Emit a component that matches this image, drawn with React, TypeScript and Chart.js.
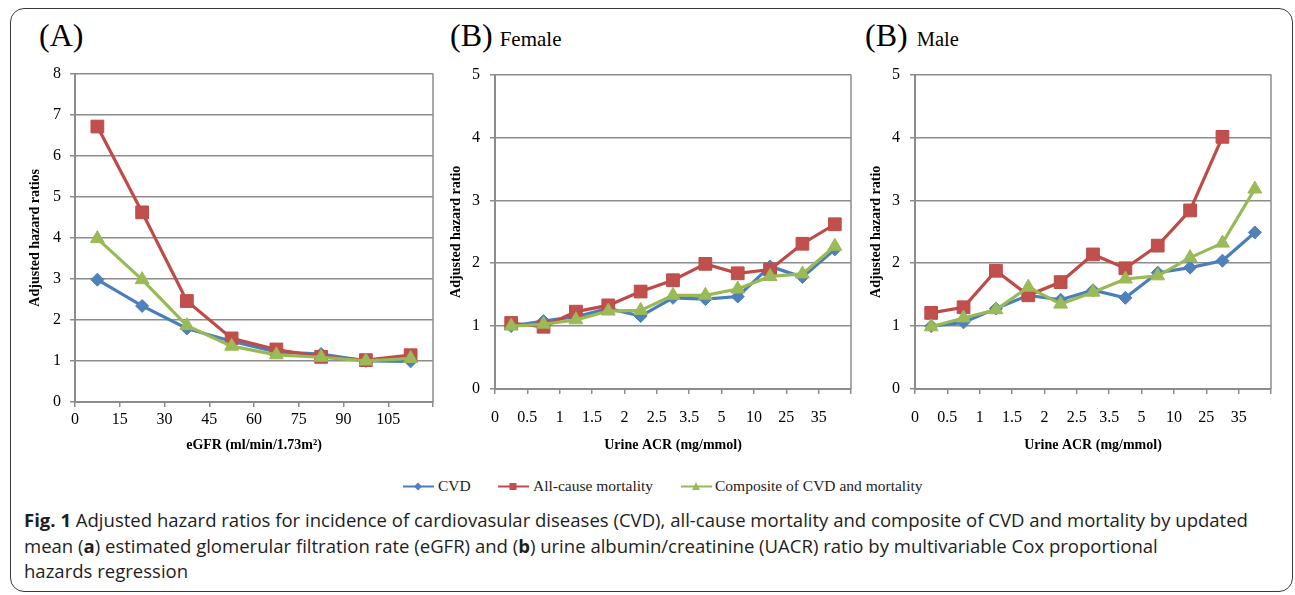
import React, { useEffect, useRef } from "react";
import { Chart, registerables } from "chart.js";

Chart.register(...registerables);

// ---------- data ----------
const seriesNames = ["CVD", "All-cause mortality", "Composite of CVD and mortality"];
const lineColors = ["#4A7EBB", "#BE4B48", "#98B954"];
const markerColors = ["#4F81BD", "#C0504D", "#9BBB59"];
const markerStyles = ["rectRot", "rect", "triangle"];
const markerRadii = [6.5, 9, 8];

// Panel A: eGFR bands (15 ml/min wide), plotted at band mid-points
const egfrTickLabels = ["0", "15", "30", "45", "60", "75", "90", "105"];
const egfrMidpoints = [7.5, 22.5, 37.5, 52.5, 67.5, 82.5, 97.5, 112.5];
const egfrCvd = [2.98, 2.34, 1.79, 1.48, 1.22, 1.17, 1.0, 0.99];
const egfrMortality = [6.71, 4.62, 2.46, 1.55, 1.28, 1.1, 1.02, 1.14];
const egfrComposite = [3.98, 2.98, 1.86, 1.36, 1.15, 1.09, 1.0, 1.06];

// Panel B: urine ACR categories (labels at category boundaries)
const acrTickLabels = ["0", "0.5", "1", "1.5", "2", "2.5", "3.5", "5", "10", "25", "35"];
const femaleCvd = [1.0, 1.08, 1.15, 1.28, 1.16, 1.45, 1.43, 1.47, 1.95, 1.78, 2.22];
const femaleMortality = [1.05, 0.99, 1.23, 1.33, 1.55, 1.73, 1.99, 1.84, 1.9, 2.31, 2.62];
const femaleComposite = [1.0, 1.03, 1.1, 1.24, 1.25, 1.49, 1.49, 1.59, 1.79, 1.83, 2.27];
const maleCvd = [1.0, 1.06, 1.28, 1.49, 1.42, 1.57, 1.45, 1.85, 1.93, 2.04, 2.49];
const maleMortality = [1.21, 1.3, 1.88, 1.49, 1.7, 2.14, 1.92, 2.28, 2.84, 4.01, null];
const maleComposite = [0.99, 1.13, 1.26, 1.62, 1.35, 1.54, 1.75, 1.8, 2.09, 2.32, 3.18];

const SERIF = '"Liberation Serif", "Times New Roman", serif';
const GRID = "#8c8c8c";

const framePlugin = {
  id: "frameRight",
  beforeDatasetsDraw(chart: any) {
    const { ctx, chartArea } = chart;
    ctx.save();
    ctx.strokeStyle = GRID;
    ctx.lineWidth = 1.5;
    ctx.beginPath();
    ctx.moveTo(chartArea.right, chartArea.top);
    ctx.lineTo(chartArea.right, chartArea.bottom);
    ctx.stroke();
    ctx.restore();
  },
};

type PanelProps = {
  left: number;
  top: number;
  width: number;
  height: number;
  xs: number[];
  series: (number | null)[][];
  xMax: number;
  xStep: number;
  tickLabels: string[];
  yMax: number;
  yAxisWidth: number;
  xAxisHeight: number;
  padTop: number;
  padRight: number;
  xTickPad: number;
  yTickPad: number;
  yTitle: string;
  xTitle: string;
  yTitlePad: number;
  xTitlePad: number;
};

function Panel(p: PanelProps) {
  const ref = useRef<HTMLCanvasElement>(null);
  useEffect(() => {
    const datasets = p.series.map((ys, k) => ({
      label: seriesNames[k],
      data: p.xs.map((x, i) => ({ x, y: ys[i] })),
      borderColor: lineColors[k],
      backgroundColor: markerColors[k],
      borderWidth: 3.2,
      pointStyle: markerStyles[k],
      pointRadius: markerRadii[k],
      pointBackgroundColor: markerColors[k],
      pointBorderColor: lineColors[k],
      pointBorderWidth: 1,
      tension: 0,
      order: 3 - k,
      clip: false as any,
    }));
    const chart = new Chart(ref.current!, {
      type: "line",
      data: { datasets },
      plugins: [framePlugin],
      options: {
        animation: false,
        responsive: false,
        events: [],
        layout: { padding: { left: 0, top: p.padTop, right: p.padRight, bottom: 0 } },
        plugins: { legend: { display: false }, tooltip: { enabled: false } },
        scales: {
          x: {
            type: "linear",
            min: 0,
            max: p.xMax,
            afterFit: (s: any) => {
              s.height = p.xAxisHeight;
            },
            ticks: {
              stepSize: p.xStep,
              autoSkip: false,
              maxRotation: 0,
              padding: p.xTickPad,
              color: "#000",
              font: { family: SERIF, size: 16 },
              callback: (v: any) => {
                const idx = Math.round(Number(v) / p.xStep);
                return p.tickLabels[idx] ?? "";
              },
            },
            grid: { drawOnChartArea: false, drawTicks: true, tickLength: 5, color: GRID, lineWidth: 1.5 },
            border: { display: true, color: GRID, width: 2 },
            title: {
              display: true,
              text: p.xTitle,
              color: "#000",
              font: { family: SERIF, size: 14, weight: "bold" },
              padding: { top: 0, bottom: p.xTitlePad },
            },
          },
          y: {
            min: 0,
            max: p.yMax,
            afterFit: (s: any) => {
              s.width = p.yAxisWidth;
            },
            ticks: {
              stepSize: 1,
              padding: p.yTickPad,
              color: "#000",
              font: { family: SERIF, size: 16 },
            },
            grid: { color: GRID, lineWidth: 1.5, tickLength: 5, drawTicks: true },
            border: { display: true, color: GRID, width: 2 },
            title: {
              display: true,
              text: p.yTitle,
              color: "#000",
              font: { family: SERIF, size: 14, weight: "bold" },
              padding: { top: p.yTitlePad, bottom: 0 },
            },
          },
        },
      } as any,
    });
    return () => chart.destroy();
  }, []);
  return (
    <div style={{ position: "absolute", left: p.left, top: p.top, width: p.width, height: p.height }}>
      <canvas ref={ref} width={p.width} height={p.height} style={{ display: "block" }} />
    </div>
  );
}

function LegendIcon({ k }: { k: number }) {
  const c = markerColors[k];
  let marker: React.ReactNode = null;
  if (k === 0) marker = <polygon points="15,2.5 19,6.5 15,10.5 11,6.5" fill={c} />;
  if (k === 1) marker = <rect x={11.5} y={3} width={7} height={7} fill={c} />;
  if (k === 2) marker = <polygon points="15,2 19,10 11,10" fill={c} />;
  return (
    <svg width={31} height={13} style={{ display: "block" }}>
      <line x1={0} y1={6.5} x2={31} y2={6.5} stroke={lineColors[k]} strokeWidth={2} />
      {marker}
    </svg>
  );
}

export default function App() {
  const acrBinCentres = acrTickLabels.map((_, i) => i + 0.5);
  const legendPos = [
    { icon: 403, text: 438 },
    { icon: 498, text: 533 },
    { icon: 681, text: 715 },
  ];
  return (
    <div style={{ position: "absolute", left: 0, top: 0, width: 1295, height: 595, background: "#fff", overflow: "hidden" }}>
      <div
        style={{
          position: "absolute",
          left: 10,
          top: 8,
          width: 1283,
          height: 584,
          boxSizing: "border-box",
          border: "1.5px solid #3a3a3a",
          borderRadius: 14,
        }}
      />
      {/* panel titles */}
      <div style={{ position: "absolute", left: 39, top: 17, fontFamily: SERIF, fontSize: 32, lineHeight: "36px", color: "#000", whiteSpace: "nowrap" }}>
        (A)
      </div>
      <div style={{ position: "absolute", left: 450, top: 17, fontFamily: SERIF, fontSize: 32, lineHeight: "36px", color: "#000", whiteSpace: "nowrap" }}>
        (B)<span style={{ fontSize: 21, marginLeft: 7 }}>Female</span>
      </div>
      <div style={{ position: "absolute", left: 865, top: 17, fontFamily: SERIF, fontSize: 32, lineHeight: "36px", color: "#000", whiteSpace: "nowrap" }}>
        (B)<span style={{ fontSize: 20.5, marginLeft: 9 }}>Male</span>
      </div>

      <Panel
        left={20}
        top={55}
        width={425}
        height={410}
        xs={egfrMidpoints}
        series={[egfrCvd, egfrMortality, egfrComposite]}
        xMax={120}
        xStep={15}
        tickLabels={egfrTickLabels}
        yMax={8}
        yAxisWidth={55}
        xAxisHeight={63}
        padTop={14}
        padRight={12}
        xTickPad={3}
        yTickPad={9}
        yTitle="Adjusted hazard ratios"
        xTitle="eGFR (ml/min/1.73m²)"
        yTitlePad={6.6}
        xTitlePad={11.6}
      />
      <Panel
        left={445}
        top={55}
        width={420}
        height={410}
        xs={acrBinCentres}
        series={[femaleCvd, femaleMortality, femaleComposite]}
        xMax={11}
        xStep={1}
        tickLabels={acrTickLabels}
        yMax={5}
        yAxisWidth={50}
        xAxisHeight={76}
        padTop={14}
        padRight={11}
        xTickPad={14}
        yTickPad={10}
        yTitle="Adjusted hazard ratio"
        xTitle="Urine ACR (mg/mmol)"
        yTitlePad={3.3}
        xTitlePad={11.6}
      />
      <Panel
        left={865}
        top={55}
        width={420}
        height={410}
        xs={acrBinCentres}
        series={[maleCvd, maleMortality, maleComposite]}
        xMax={11}
        xStep={1}
        tickLabels={acrTickLabels}
        yMax={5}
        yAxisWidth={50}
        xAxisHeight={76}
        padTop={14}
        padRight={11}
        xTickPad={14}
        yTickPad={10}
        yTitle="Adjusted hazard ratio"
        xTitle="Urine ACR (mg/mmol)"
        yTitlePad={3.3}
        xTitlePad={11.6}
      />

      {/* legend */}
      {seriesNames.map((name, k) => (
        <React.Fragment key={name}>
          <div style={{ position: "absolute", left: legendPos[k].icon, top: 480 }}>
            <LegendIcon k={k} />
          </div>
          <div
            style={{
              position: "absolute",
              left: legendPos[k].text,
              top: 476,
              fontFamily: SERIF,
              fontSize: 15.5,
              lineHeight: "20px",
              color: "#222",
              whiteSpace: "nowrap",
            }}
          >
            {name}
          </div>
        </React.Fragment>
      ))}

      {/* caption */}
      <div
        style={{
          position: "absolute",
          left: 24,
          top: 507,
          fontFamily: '"Open Sans", "Noto Sans", sans-serif',
          fontSize: 18.55,
          lineHeight: "25.5px",
          color: "#1e1e1e",
          whiteSpace: "nowrap",
        }}
      >
        <b>Fig. 1</b> Adjusted hazard ratios for incidence of cardiovasular diseases (CVD), all-cause mortality and composite of CVD and mortality by updated
        <br />
        mean (<b>a</b>) estimated glomerular filtration rate (eGFR) and (<b>b</b>) urine albumin/creatinine (UACR) ratio by multivariable Cox proportional
        <br />
        hazards regression
      </div>
    </div>
  );
}
